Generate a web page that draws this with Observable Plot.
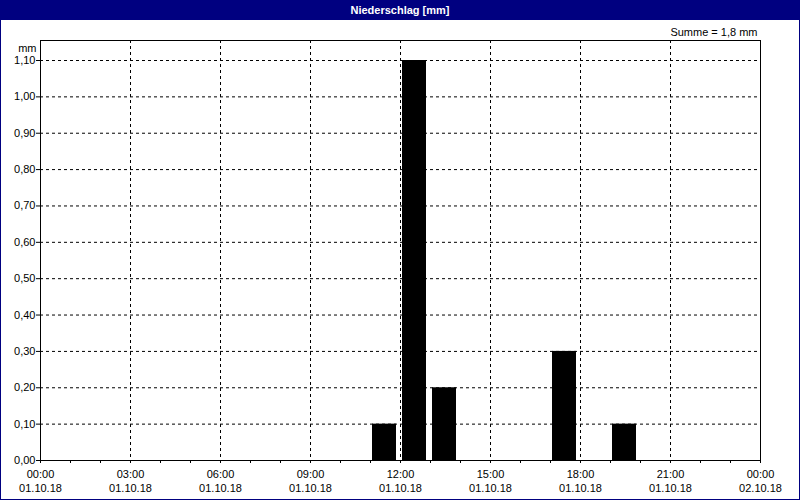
<!DOCTYPE html>
<html>
<head>
<meta charset="utf-8">
<script src="https://cdn.jsdelivr.net/npm/d3@7"></script>
<script src="https://cdn.jsdelivr.net/npm/@observablehq/plot@0.6"></script>
<style>
  html, body { margin: 0; padding: 0; background: white; }
  #wrap { position: relative; width: 800px; height: 500px; overflow: hidden; font-family: "Liberation Sans", "DejaVu Sans", sans-serif; }
  #title { height: 20px; background: #000080; color: white; font-weight: bold; font-size: 11px; text-align: center; line-height: 20px; }
  #border { position: absolute; left: 0; top: 0; width: 800px; height: 500px; box-sizing: border-box; border: 1px solid #000080; pointer-events: none; }
  #chart svg { display: block; }
</style>
</head>
<body>
<div id="wrap">
  <div id="title">Niederschlag [mm]</div>
  <div id="chart"></div>
  <div id="border"></div>
</div>
<script>
// Data: hourly precipitation (mm), bar = hour starting at given time
const barStarts = ["2018-10-01T11:00:00Z", "2018-10-01T12:00:00Z", "2018-10-01T13:00:00Z", "2018-10-01T17:00:00Z", "2018-10-01T19:00:00Z"];
const barValues = [0.1, 1.1, 0.2, 0.3, 0.1];
const yTickValues = [0, 0.1, 0.2, 0.3, 0.4, 0.5, 0.6, 0.7, 0.8, 0.9, 1.0, 1.1];
const yMax = 1.155;
const xStart = "2018-10-01T00:00:00Z";
const xEnd = "2018-10-02T00:00:00Z";
const sumLabel = "Summe = 1,8 mm";
const unitLabel = "mm";

const data = barStarts.map((s, i) => {
  const t = new Date(s);
  return { start: t, end: new Date(+t + 3600e3), value: barValues[i] };
});

const x0 = new Date(xStart), x1 = new Date(xEnd);
const hourTicks = d3.utcHour.range(x0, new Date(+x1 + 1));
const gridTicks = hourTicks.filter(d => d.getUTCHours() % 3 === 0 && +d !== +x0 && +d !== +x1);
const gridY = yTickValues.filter(v => v > 0);

const pad = n => String(n).padStart(2, "0");
const fmtX = d => d.getUTCHours() % 3 !== 0 ? "" :
  `${pad(d.getUTCHours())}:${pad(d.getUTCMinutes())}\n${pad(d.getUTCDate())}.${pad(d.getUTCMonth() + 1)}.${String(d.getUTCFullYear()).slice(2)}`;
const fmtY = v => d3.format(".2f")(v).replace(".", ",");

const chart = Plot.plot({
  width: 800,
  height: 480,
  marginTop: 20,
  marginBottom: 40,
  marginLeft: 40,
  marginRight: 40,
  style: { fontFamily: "Liberation Sans, DejaVu Sans, sans-serif", fontSize: "11px", color: "black", background: "white", overflow: "visible" },
  x: { type: "utc", domain: [x0, x1] },
  y: { domain: [0, yMax] },
  marks: [
    Plot.ruleY(gridY, { stroke: "black", strokeDasharray: "3,3", strokeOpacity: 1 }),
    Plot.ruleX(gridTicks, { stroke: "black", strokeDasharray: "3,3", strokeOpacity: 1 }),
    Plot.rectY(data, { x1: "start", x2: "end", y: "value", fill: "black", insetLeft: 2, insetRight: 4 }),
    Plot.frame({ stroke: "black" }),
    Plot.axisY({ ticks: yTickValues, tickFormat: fmtY, tickSize: 4, tickPadding: 1, label: null }),
    Plot.axisX({ ticks: hourTicks, tickFormat: fmtX, tickSize: 3, tickPadding: 4, label: null, lineHeight: 1.3 }),
    Plot.text([sumLabel], { frameAnchor: "top-right", dy: -12, dx: -3, textAnchor: "end", fill: "black" }),
    Plot.text([unitLabel], { frameAnchor: "top-left", dy: 4, dx: -4, textAnchor: "end", fill: "black" })
  ]
});
document.getElementById("chart").appendChild(chart);
</script>
</body>
</html>
